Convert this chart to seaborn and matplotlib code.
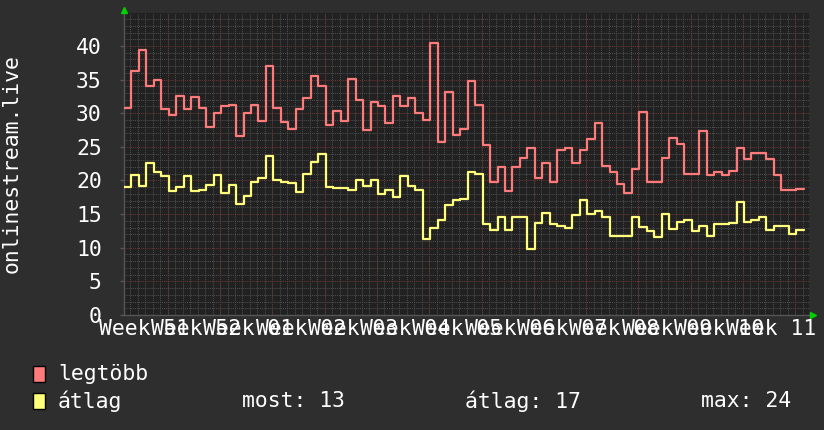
import numpy as np
import pandas as pd
import matplotlib
matplotlib.use("Agg")
import matplotlib.pyplot as plt
import seaborn as sns
from matplotlib.patches import Rectangle
from matplotlib.transforms import blended_transform_factory

# ---------------- data ----------------
legtobb = [30.8, 36.3, 39.4, 34.05, 34.9, 30.6, 29.7, 32.6, 30.7, 32.4,
           30.8, 28.0, 30.1, 31.0, 31.2, 26.6, 30.1, 31.2, 28.9, 37.0,
           30.8, 28.7, 27.7, 30.6, 32.3, 35.6, 34.1, 28.3, 30.4, 28.8,
           35.1, 31.9, 27.5, 31.6, 31.1, 28.6, 32.5, 31.1, 32.2, 30.1,
           29.0, 40.5, 25.7, 33.2, 26.8, 27.6, 34.8, 31.2, 25.3, 19.8,
           22.05, 18.4, 21.95, 23.4, 24.9, 20.3, 22.55, 19.7, 24.5, 24.8,
           22.6, 24.5, 26.1, 28.5, 22.15, 21.3, 19.5, 18.2, 21.65, 30.2,
           19.8, 19.7, 23.3, 26.3, 25.4, 21.0, 21.0, 27.4, 20.8, 21.3,
           20.8, 21.45, 24.9, 23.2, 24.1, 24.1, 23.2, 20.8, 18.6, 18.6,
           18.8]
atlag = [19.1, 20.8, 19.2, 22.65, 21.3, 20.6, 18.5, 19.1, 20.7, 18.5,
         18.6, 19.3, 20.8, 18.2, 19.4, 16.55, 17.7, 19.7, 20.4, 23.6,
         20.1, 19.8, 19.6, 18.3, 20.96, 22.7, 23.9, 19.1, 18.9, 18.9,
         18.6, 20.0, 19.2, 20.1, 18.0, 18.6, 17.6, 20.7, 19.2, 18.6,
         11.3, 12.9, 14.1, 16.4, 17.1, 17.3, 21.3, 20.96, 13.6, 12.6,
         14.5, 12.6, 14.5, 14.5, 9.8, 13.7, 15.2, 13.5, 13.3, 13.0,
         14.8, 17.1, 15.0, 15.5, 14.5, 11.8, 11.8, 11.8, 14.6, 13.1,
         12.5, 11.6, 15.0, 12.8, 13.8, 14.1, 12.5, 13.2, 11.7, 13.5,
         13.5, 13.7, 16.75, 13.9, 14.1, 14.5, 12.6, 13.2, 13.2, 12.1,
         12.6]
series_names = ["legtöbb", "átlag"]
week_numbers = ["51", "52", "01", "02", "03", "04", "05", "06",
                "07", "08", "09", "10", "11"]
y_ticks = [0, 5, 10, 15, 20, 25, 30, 35, 40]
y_label = "onlinestream.live"
stat_labels = ["most", "átlag", "max"]
stat_values = [13, 17, 24]

# ---------------- style ----------------
BG = "#2e2e2e"
PLOT_BG = "#212121"
MINOR = "#4e4e4e"
MAJOR = "#6e3434"
RED = "#ff7b7b"
YELLOW = "#ffff7b"
TXT = "#ffffff"
FS = 15.4

sns.set_style("dark")
plt.rcParams["font.family"] = ["DejaVu Sans Mono", "DejaVu Sans"]
plt.rcParams["text.color"] = TXT

n = len(legtobb)
days = np.arange(n + 1)
df = pd.DataFrame({
    "day": np.concatenate([days, days]),
    "value": legtobb + [legtobb[-1]] + atlag + [atlag[-1]],
    "series": [series_names[0]] * (n + 1) + [series_names[1]] * (n + 1),
})

W, H = 824, 430
fig = plt.figure(figsize=(W / 100, H / 100), dpi=100, facecolor=BG)
L, R, T, B = 124, 809, 13, 315
ax = fig.add_axes([L / W, (H - B) / H, (R - L) / W, (B - T) / H])
ax.set_facecolor(PLOT_BG)

x_max = (R - L) / 7.47
y_max = 44.9
first_week = 5.86

# grid
dot = (0, (1, 1))
for x in np.arange(first_week % 1, x_max, 1):
    ax.axvline(x, color=MINOR, lw=0.75, ls=dot, zorder=0.5)
for x in np.arange(first_week, x_max, 7):
    ax.axvline(x, color=MAJOR, lw=0.75, ls=dot, zorder=0.6)
for y in np.arange(1, y_max, 1):
    if y % 5:
        ax.axhline(y, color=MINOR, lw=0.75, ls=dot, zorder=0.5)
for y in y_ticks[1:]:
    ax.axhline(y, color=MAJOR, lw=0.75, ls=dot, zorder=0.6)

sns.lineplot(data=df, x="day", y="value", hue="series",
             palette={series_names[0]: RED, series_names[1]: YELLOW},
             drawstyle="steps-post", linewidth=1.6, legend=False,
             estimator=None, sort=False, ax=ax, zorder=3)

ax.set_xlim(0, x_max)
ax.set_ylim(0, y_max)
ax.set_xlabel("")
ax.set_ylabel("")
ax.grid(False)
for s in ["top", "right"]:
    ax.spines[s].set_visible(False)
for s in ["left", "bottom"]:
    ax.spines[s].set_color("#555555")
    ax.spines[s].set_linewidth(1.0)

ax.set_yticks(y_ticks)
ax.set_yticklabels([str(v) for v in y_ticks])
ax.tick_params(axis="y", colors="#555555", labelcolor=TXT, labelsize=FS,
               length=3, width=1, pad=13, direction="out", left=True)
ax.set_xticks([])

# x labels
trans = blended_transform_factory(ax.transData, ax.transAxes)
for i, w in enumerate(week_numbers):
    ax.text(2.65 + 7 * i, -4 / (B - T), f"Week {w}", ha="center", va="top",
            fontsize=FS, color=TXT, transform=trans, clip_on=False)

# arrows
ax.plot([0], [1 + 3 / (B - T)], marker="^", color="#00d000", markersize=5,
        transform=ax.transAxes, clip_on=False, zorder=5)
ax.plot([1 + 4 / (R - L)], [0], marker=">", color="#00d000", markersize=5,
        transform=ax.transAxes, clip_on=False, zorder=5)

# y label
fig.text(12 / W, 1 - 164 / H, y_label, rotation=90, ha="center", va="center",
         fontsize=FS, color=TXT)

# legend
for j, (name, col) in enumerate(zip(series_names, [RED, YELLOW])):
    yc = 374 + 27 * j
    fig.patches.append(Rectangle((33 / W, 1 - (yc + 8) / H), 12 / W, 16 / H,
                                 transform=fig.transFigure, facecolor=col,
                                 edgecolor="black", lw=1))
    fig.text(58 / W, 1 - yc / H, name, ha="left", va="center",
             fontsize=FS, color=TXT)

for lab, val, xs in zip(stat_labels, stat_values, [242, 465, 701]):
    fig.text(xs / W, 1 - 401 / H, f"{lab}: {val}", ha="left",
             va="center", fontsize=FS, color=TXT)

fig.savefig("out.png", dpi=100, facecolor=BG)
